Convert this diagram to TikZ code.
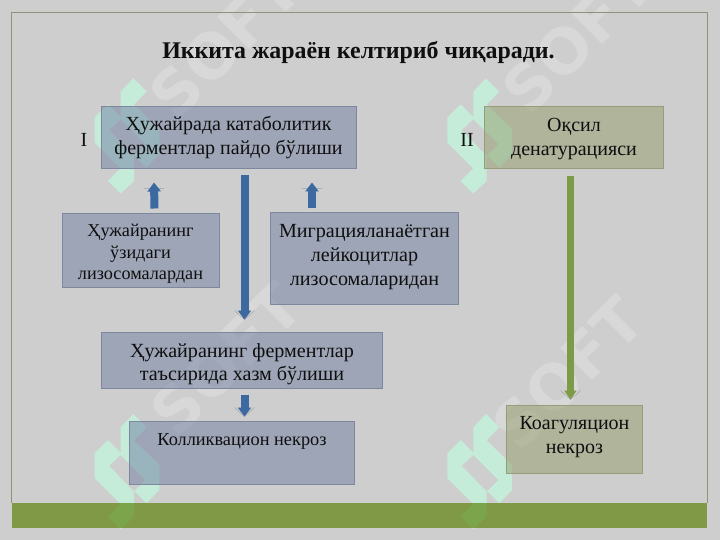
\documentclass[tikz,border=0pt]{standalone}
\usepackage{fontspec}
\setmainfont{Liberation Serif}
\newfontfamily\wmfont{DejaVu Sans}
\usetikzlibrary{arrows.meta,calc}
\definecolor{bgc}{RGB}{206,206,206}
\definecolor{mint}{RGB}{197,236,217}
\definecolor{wmc}{RGB}{216,216,216}
\definecolor{bandc}{RGB}{85,126,0}
\definecolor{blueF}{RGB}{112,126,162}
\definecolor{blueE}{RGB}{125,136,158}
\definecolor{greenF}{RGB}{145,155,105}
\definecolor{greenE}{RGB}{148,158,122}
\definecolor{arrB}{RGB}{60,105,160}
\definecolor{arrG}{RGB}{125,155,70}
\definecolor{chev}{RGB}{170,175,175}
\definecolor{framec}{RGB}{140,148,120}
\definecolor{txt}{RGB}{15,15,15}
\tikzset{
  x=1pt,y=-1pt,
  bbox/.style={draw=blueE,line width=1pt,fill=blueF,fill opacity=.5,draw opacity=1,inner sep=0pt},
  gbox/.style={bbox,draw=greenE,fill=greenF},
  stemB/.style={arrB,line width=8pt,-{Triangle[length=9pt,width=13pt]}},
  stemG/.style={arrG,line width=7pt,-{Triangle[length=9pt,width=12pt]}},
  chevline/.style={chev,line width=.7pt},
  tb/.style={text=txt,inner sep=0pt,align=center},
  mintf/.style={fill=mint,even odd rule},
  wm/.style={text=wmc,inner sep=0pt,rotate=45,font=\wmfont\bfseries\fontsize{62}{62}\selectfont},
  logo/.pic={
    \fill[mintf] (46,114)--(59.3,127.3)--(46.7,140.3)--(72,165)--(72,190)--(59.3,203.3)--(46.7,190.7)--(46.7,216.7)--(33.3,229.3)--(20.7,216.7)--(33.3,204)--(7.3,178.3)--(7.3,153.3)--(20.7,140)--(33.3,152.7)--(33.3,127.3)--cycle
    (33.3,155)--(58.3,180)--(46.7,191.7)--(21.7,165.7)--cycle;
  }
}
\begin{document}
\begin{tikzpicture}
\useasboundingbox (0,0) rectangle (720,540);
\fill[bgc] (0,0) rectangle (720,540);
% watermarks
\node[wm] (w1) at (225,42) {SOFT};
\node[wm] (w2) at (578,37) {SOFT};
\node[wm] (w3) at (226,359) {SOFT};
\node[wm] (w4) at (568,373) {SOFT};
\pic at (87.3,-35.7) {logo};
\pic at (440,-35.7) {logo};
\pic at (87.3,300) {logo};
\pic at (440,300) {logo};
% frame and band
\draw[framec,line width=.8pt] (11.5,503)--(11.5,12.5)--(707,12.5)--(707,503);
\fill[bandc,fill opacity=.65] (11.5,503) rectangle (707,528);
% boxes
\node[bbox,minimum width=255pt,minimum height=62pt] (A) at (228.5,138) {};
\node[bbox,minimum width=157pt,minimum height=73pt] (B) at (140.5,250.5) {};
\node[bbox,minimum width=188pt,minimum height=91pt] (C) at (364,258.5) {};
\node[bbox,minimum width=281pt,minimum height=56pt] (D) at (241.5,360) {};
\node[bbox,minimum width=225pt,minimum height=63pt] (E) at (241.5,452.5) {};
\node[gbox,minimum width=179pt,minimum height=62pt] (F) at (573.5,138) {};
\node[gbox,minimum width=136pt,minimum height=68pt] (G) at (574,439) {};
% texts
\node[tb,font=\bfseries\fontsize{23.9}{27}\selectfont] (title) at (358.5,52.5) {Иккита жараён келтириб чиқаради.};
\node[tb,font=\fontsize{20}{24}\selectfont] (At) at (228.5,137.5) {Ҳужайрада катаболитик\\ферментлар пайдо бўлиши};
\node[tb,font=\fontsize{18.2}{21.5}\selectfont] (Bt) at (140.5,254) {Ҳужайранинг\\ўзидаги\\лизосомалардан};
\node[tb,font=\fontsize{20.1}{24}\selectfont] (Ct) at (364.5,257) {Миграцияланаётган\\лейкоцитлар\\лизосомаларидан};
\node[tb,font=\fontsize{20.1}{23}\selectfont] (Dt) at (242,364) {Ҳужайранинг ферментлар\\таъсирида хазм бўлиши};
\node[tb,font=\fontsize{18.3}{21}\selectfont] (Et) at (242,441) {Колликвацион некроз};
\node[tb,font=\fontsize{20}{24}\selectfont] (Ft) at (574,139) {Оқсил\\денатурацияси};
\node[tb,font=\fontsize{20}{24}\selectfont] (Gt) at (574.5,437) {Коагуляцион\\некроз};
\node[tb,font=\fontsize{20}{24}\selectfont] (I) at (84,140) {I};
\node[tb,font=\fontsize{20}{24}\selectfont] (II) at (467,140) {II};
% arrow anchors
\coordinate (a1s) at ([xshift=16pt,yshift=-6pt]A.south);
\coordinate (a1e) at ([xshift=3pt,yshift=12pt]D.north);
\coordinate (a2s) at ([xshift=14pt,yshift=5pt]B.north);
\coordinate (a2e) at ([xshift=-74.5pt,yshift=-13pt]A.south);
\coordinate (a3s) at ([xshift=-52pt,yshift=4pt]C.north);
\coordinate (a3e) at ([xshift=83.5pt,yshift=-13pt]A.south);
\coordinate (a4s) at ([xshift=3pt,yshift=-6pt]D.south);
\coordinate (a4e) at ([xshift=3pt,yshift=4pt]E.north);
\coordinate (a5s) at ([xshift=-3pt,yshift=-7pt]F.south);
\coordinate (a5e) at ([xshift=-3.5pt,yshift=5pt]G.north);
% chevrons
\draw[chevline] ($(a1e)+(-10,-9)$)--(a1e)--($(a1e)+(10,-9)$);
\draw[chevline] ($(a4e)+(-10,-9)$)--(a4e)--($(a4e)+(10,-9)$);
\draw[chevline] ($(a5e)+(-10,-9)$)--(a5e)--($(a5e)+(10,-9)$);
\draw[chevline] ($(a2e)+(-10,6)$)--($(a2e)+(10,6)$);
\draw[chevline] ($(a3e)+(-10,6)$)--($(a3e)+(10,6)$);
% arrows
\draw[stemB] (a1s)--(a1e);
\draw[stemB] (a2s)--(a2e);
\draw[stemB] (a3s)--(a3e);
\draw[stemB] (a4s)--(a4e);
\draw[stemG] (a5s)--(a5e);
\end{tikzpicture}
\end{document}
